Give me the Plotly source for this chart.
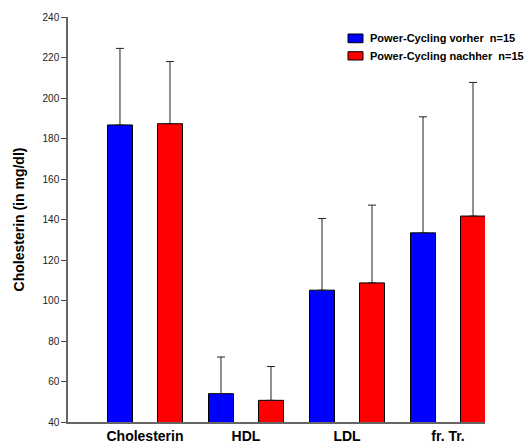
import plotly.graph_objects as go

# Lipid values (mg/dl), means and upper standard deviations
categories = ["Cholesterin", "HDL", "LDL", "fr. Tr."]
vorher_mean = [186.7, 54.0, 105.1, 133.4]
vorher_sd = [37.8, 18.1, 35.4, 57.3]
nachher_mean = [187.3, 50.7, 108.7, 141.7]
nachher_sd = [30.7, 16.7, 38.4, 66.0]

series_names = ["Power-Cycling vorher\u00a0 n=15", "Power-Cycling nachher\u00a0 n=15"]
series_colors = ["#0000FF", "#FF0000"]

y_ticks = [40, 60, 80, 100, 120, 140, 160, 180, 200, 220, 240]

pos = list(range(len(categories)))
shift = 0.2475
bar_w = 0.2475

font_family = "Liberation Sans, Arial, sans-serif"

fig = go.Figure()
for means, sds, sign, name, color in [
    (vorher_mean, vorher_sd, -1, series_names[0], series_colors[0]),
    (nachher_mean, nachher_sd, 1, series_names[1], series_colors[1]),
]:
    fig.add_trace(go.Bar(
        x=[p + sign * shift for p in pos], y=means, width=bar_w,
        name=name, showlegend=False,
        marker=dict(color=color, line=dict(color="#000000", width=1)),
        error_y=dict(type="data", array=sds, arrayminus=[0] * len(sds), symmetric=False,
                     color="#222222", thickness=1, width=4),
    ))

# Legend drawn as swatches + labels in the upper right corner
legend_rows = [(0.958, 0.9365, 0.9474), (0.9143, 0.8938, 0.9039)]
for (y_top, y_bot, y_txt), name, color in zip(legend_rows, series_names, series_colors):
    fig.add_shape(type="rect", xref="paper", yref="paper",
                  x0=0.6715, x1=0.7074, y0=y_bot, y1=y_top,
                  fillcolor=color, line=dict(color="#000000", width=1))
    fig.add_annotation(xref="paper", yref="paper", x=0.7194, y=y_txt,
                       xanchor="left", yanchor="middle", showarrow=False,
                       text=name,
                       font=dict(size=11, family=font_family, color="#000000", weight="bold"))

fig.update_layout(
    width=526, height=445,
    margin=dict(l=68, r=41, t=17, b=23),
    paper_bgcolor="white", plot_bgcolor="white",
    barmode="overlay",
    font=dict(family=font_family, color="#000000"),
    showlegend=False,
    xaxis=dict(
        range=[-0.762, 3.366], automargin=False,
        tickmode="array", tickvals=pos, ticktext=categories,
        showline=True, linecolor="#666666", linewidth=1.5,
        ticks="", showgrid=False, zeroline=False,
        tickfont=dict(size=14, family=font_family, color="#000000", weight="bold"),
    ),
    yaxis=dict(
        range=[40, 240], automargin=False,
        tickmode="array", tickvals=y_ticks,
        showline=True, linecolor="#666666", linewidth=1.5,
        ticks="outside", ticklen=5, tickcolor="#444444", tickwidth=1,
        showgrid=False, zeroline=False,
        tickfont=dict(size=10, family=font_family, color="#222222"),
        title=dict(text="Cholesterin (in mg/dl)", standoff=15,
                   font=dict(size=14, family=font_family, color="#000000", weight="bold")),
    ),
)

fig.write_html("out.html")
